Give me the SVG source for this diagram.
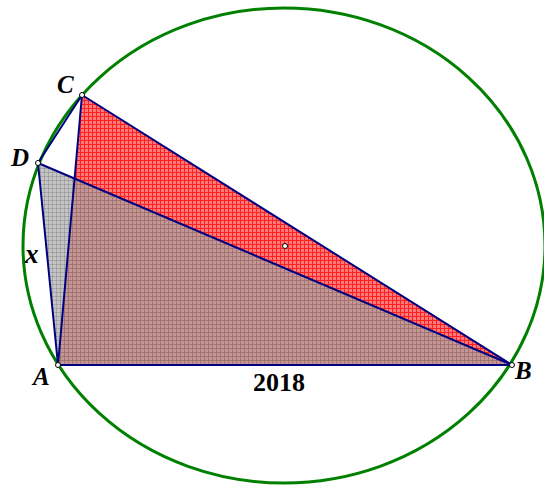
<svg xmlns="http://www.w3.org/2000/svg" width="544" height="485" viewBox="0 0 544 485">
<defs>
<pattern id="redgrid" width="4" height="4" patternUnits="userSpaceOnUse">
<rect width="4" height="4" fill="#ff7a7a"/>
<path d="M0 0.5H4M0.5 0V4" stroke="#ff2020" stroke-width="1"/>
</pattern>
<pattern id="graygrid" width="4" height="4" patternUnits="userSpaceOnUse">
<rect width="4" height="4" fill="#a4a4a4" fill-opacity="0.65"/>
<path d="M0 0.5H4M0.5 0V4" stroke="#707070" stroke-width="1" stroke-opacity="0.35"/>
</pattern>
</defs>
<style>
.edge{stroke:#000080;stroke-width:2;fill:none;stroke-linecap:round}
.pt{fill:#fff;stroke:#000;stroke-width:1}
.lbl{font-family:"Liberation Serif",serif;font-weight:bold;font-style:italic;font-size:25px;fill:#000}
.num{font-family:"Liberation Serif",serif;font-weight:bold;font-size:26px;fill:#000}
</style>
<g id="circle">
<ellipse cx="284" cy="245.5" rx="261" ry="237.5" fill="none" stroke="#008000" stroke-width="3"/>
</g>
<g id="triABC">
<polygon points="58,365 512,365 82,95" fill="url(#redgrid)"/>
</g>
<g id="triABD">
<polygon points="58,365 512,365 38,163" fill="url(#graygrid)"/>
</g>
<g id="connectors">
<line class="edge" x1="58" y1="365" x2="512" y2="365"/>
<line class="edge" x1="58" y1="365" x2="82" y2="95"/>
<line class="edge" x1="58" y1="365" x2="38" y2="163"/>
<line class="edge" x1="38" y1="163" x2="82" y2="95"/>
<line class="edge" x1="82" y1="95" x2="512" y2="365"/>
<line class="edge" x1="38" y1="163" x2="512" y2="365"/>
</g>
<g id="A"><circle class="pt" cx="58" cy="365" r="2.5"/><text class="lbl" x="33" y="385">A</text></g>
<g id="B"><circle class="pt" cx="512" cy="365" r="2.5"/><text class="lbl" x="515" y="379">B</text></g>
<g id="C"><circle class="pt" cx="82" cy="95" r="2.5"/><text class="lbl" x="57" y="93">C</text></g>
<g id="D"><circle class="pt" cx="38" cy="163" r="2.5"/><text class="lbl" x="11" y="166">D</text></g>
<g id="O"><circle class="pt" cx="285" cy="246" r="2.5"/></g>
<g id="labels">
<text class="lbl" x="25" y="263" style="font-size:27px">x</text>
<text class="num" x="253" y="391">2018</text>
</g>
</svg>
